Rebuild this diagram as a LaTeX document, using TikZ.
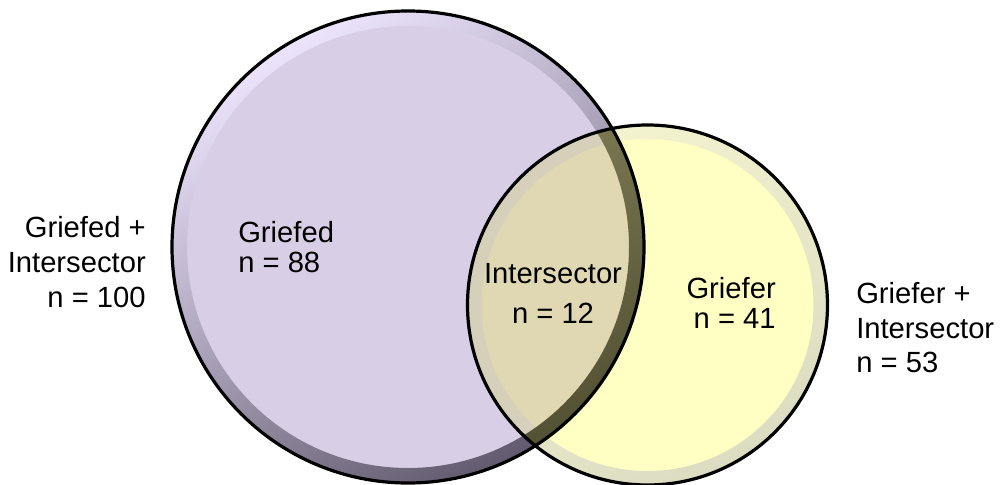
\documentclass[tikz,border=0pt]{standalone}
\usepackage{fontspec}
\setmainfont{Liberation Sans}
\begin{document}
\definecolor{lavender}{RGB}{216,206,230}
\definecolor{lavenderlight}{RGB}{236,228,252}
\definecolor{lavenderdark}{RGB}{98,90,110}
\definecolor{paleyellow}{RGB}{255,255,196}
\definecolor{paleyellowlight}{RGB}{244,244,208}
\definecolor{paleyellowdark}{RGB}{220,220,194}
\definecolor{overlap}{RGB}{223,216,178}
\definecolor{overlaprim}{RGB}{214,208,186}
\definecolor{olivelight}{RGB}{156,152,108}
\definecolor{olivedark}{RGB}{84,82,52}
\begin{tikzpicture}[x=0.75pt,y=-0.75pt,
  label/.style={inner sep=0pt,font=\fontsize{21.9}{26}\selectfont},
  outline/.style={draw=black,line width=2.4pt},
  rim/.style={even odd rule,shading angle=30}]
\useasboundingbox (0,0) rectangle (1000,485);
\coordinate (pc) at (408,247);
\coordinate (yc) at (647.5,305);

% Griefed set: body and bevelled rim
\fill[lavender] (pc) circle (236);
\shade[rim,top color=lavenderlight,bottom color=lavenderdark,shading angle=30]
  (pc) circle (236) (pc) circle (221);

% Griefer set: body and rim
\fill[paleyellow] (yc) circle (180);
\shade[rim,top color=paleyellowlight,bottom color=paleyellowdark,shading angle=30]
  (yc) circle (180) (yc) circle (166);

% overlap of the two sets
\begin{scope}
  \clip (pc) circle (236);
  \fill[overlap] (yc) circle (180);
  \fill[overlaprim,even odd rule] (yc) circle (180) (yc) circle (166);
  \clip (yc) circle (180);
  \shade[rim,top color=olivelight,bottom color=olivedark,shading angle=30]
    (pc) circle (236) (pc) circle (221);
\end{scope}

% outlines
\draw[outline] (pc) circle (236);
\draw[outline] (yc) circle (180);

% labels inside the sets
\node[label,anchor=base west] (g1) at (238,242) {Griefed};
\node[label,anchor=base west] (g2) at (238,272) {n = 88};
\node[label,anchor=base] (i1) at (553,283) {Intersector};
\node[label,anchor=base] (i2) at (553,323) {n = 12};
\node[label,anchor=base east] (r1) at (776,298) {Griefer};
\node[label,anchor=base east] (r2) at (776,328) {n = 41};

% totals beside the sets
\node[label,anchor=base east] (l1) at (146,237) {Griefed +};
\node[label,anchor=base east] (l2) at (146,272) {Intersector};
\node[label,anchor=base east] (l3) at (146,307) {n = 100};
\node[label,anchor=base west] (t1) at (856,303) {Griefer +};
\node[label,anchor=base west] (t2) at (856,338) {Intersector};
\node[label,anchor=base west] (t3) at (856,372) {n = 53};
\end{tikzpicture}
\end{document}
